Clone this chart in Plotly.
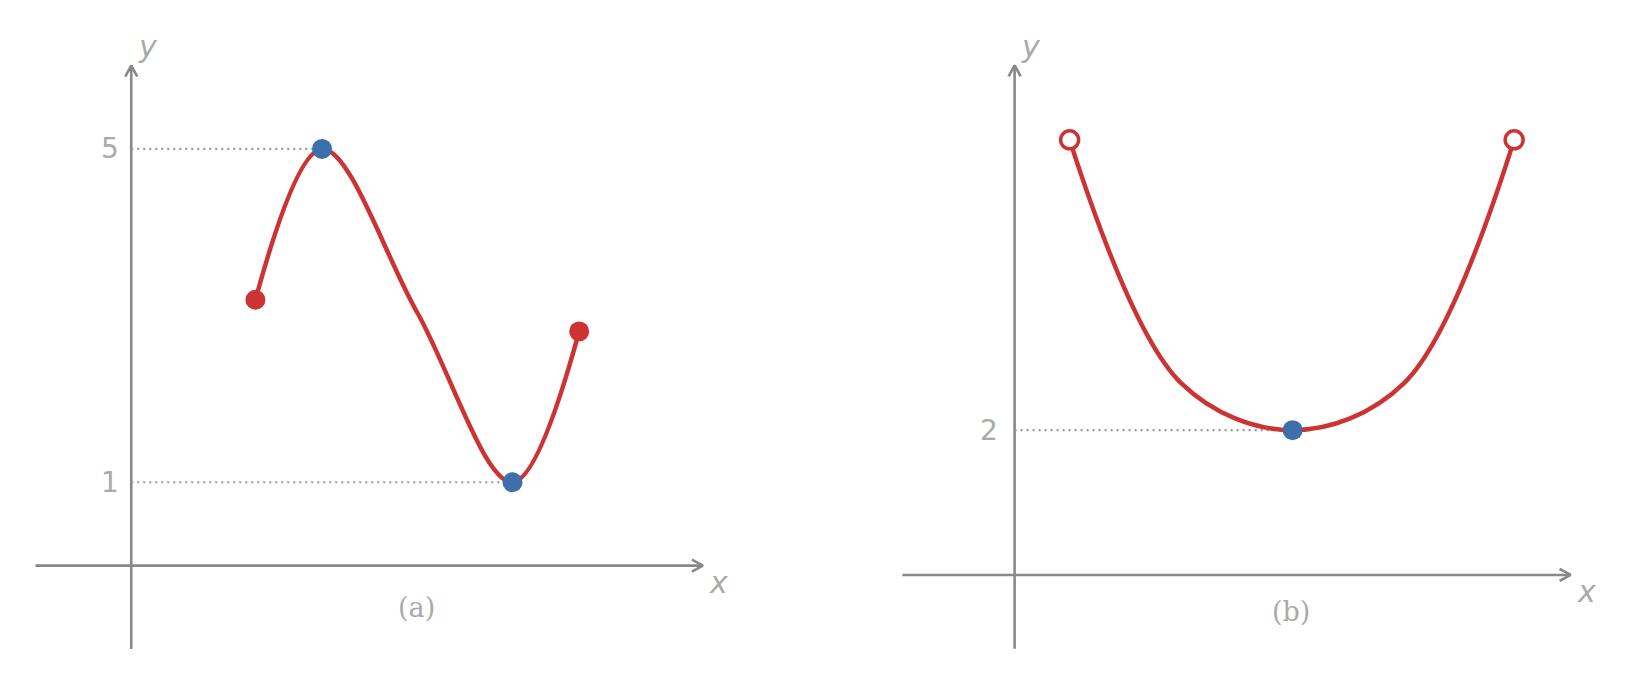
import plotly.graph_objects as go

# panel (a): curve
a_curve_x = [1.49, 2.29, 3.43, 4.575, 5.375]
a_curve_y = [3.19, 5.0, 3.04, 1.0, 2.81]
a_end_x = [1.49, 5.375]
a_end_y = [3.19, 2.81]
a_ext_x = [2.29, 4.575]
a_ext_y = [5.0, 1.0]
a_ticks = [5, 1]

# panel (b)
b_curve_x = [0.76, 2.3, 3.84, 5.38, 6.9]
b_curve_y = [6.01, 2.65, 2.0, 2.65, 6.01]
b_open_x = [0.76, 6.9]
b_open_y = [6.01, 6.01]
b_min_x = [3.84]
b_min_y = [2.0]
b_ticks = [2]

RED = "#cc3333"
BLUE = "#3d6fad"
AX = "#888888"
TXT = "#aaaaaa"

fig = go.Figure()


def axes(xa, ya, x0, x1, y0, y1, sx, sy):
    fig.add_trace(go.Scatter(x=[x0, x1], y=[0, 0], mode="lines", line=dict(color=AX, width=2.6),
                             xaxis=xa, yaxis=ya, hoverinfo="skip"))
    fig.add_trace(go.Scatter(x=[0, 0], y=[y0, y1], mode="lines", line=dict(color=AX, width=2.6),
                             xaxis=xa, yaxis=ya, hoverinfo="skip"))
    # chevron arrow heads
    fig.add_trace(go.Scatter(x=[x1 - 11 / sx, x1, x1 - 11 / sx], y=[6 / sy, 0, -6 / sy], mode="lines",
                             line=dict(color=AX, width=2.6), xaxis=xa, yaxis=ya, hoverinfo="skip"))
    fig.add_trace(go.Scatter(x=[-6 / sx, 0, 6 / sx], y=[y1 - 11 / sy, y1, y1 - 11 / sy], mode="lines",
                             line=dict(color=AX, width=2.6), xaxis=xa, yaxis=ya, hoverinfo="skip"))


def dotted(xa, ya, xs, ys):
    for x, y in zip(xs, ys):
        fig.add_trace(go.Scatter(x=[0, x], y=[y, y], mode="lines",
                                 line=dict(color="#999999", width=2.2, dash="2px,4px"),
                                 xaxis=xa, yaxis=ya, hoverinfo="skip"))


# panel a
axes("x", "y", -1.15, 6.86, -1.0, 6.0, 83.3, 83.3)
dotted("x", "y", a_ext_x, a_ext_y)
fig.add_trace(go.Scatter(x=a_curve_x, y=a_curve_y, mode="lines", line=dict(color=RED, width=4.5, shape="spline"),
                         xaxis="x", yaxis="y"))
fig.add_trace(go.Scatter(x=a_end_x, y=a_end_y, mode="markers", marker=dict(color=RED, size=20),
                         xaxis="x", yaxis="y"))
fig.add_trace(go.Scatter(x=a_ext_x, y=a_ext_y, mode="markers", marker=dict(color=BLUE, size=20),
                         xaxis="x", yaxis="y"))

# panel b
axes("x2", "y2", -1.55, 7.68, -1.02, 7.04, 72.4, 72.4)
dotted("x2", "y2", b_min_x, b_min_y)
fig.add_trace(go.Scatter(x=b_curve_x, y=b_curve_y, mode="lines", line=dict(color=RED, width=4.5, shape="spline"),
                         xaxis="x2", yaxis="y2"))
fig.add_trace(go.Scatter(x=b_open_x, y=b_open_y, mode="markers",
                         marker=dict(color="white", size=18, line=dict(color=RED, width=3.5)),
                         xaxis="x2", yaxis="y2"))
fig.add_trace(go.Scatter(x=b_min_x, y=b_min_y, mode="markers", marker=dict(color=BLUE, size=20),
                         xaxis="x2", yaxis="y2"))

ann = []
for t in a_ticks:
    ann.append(dict(x=-0.12, y=t, xref="x", yref="y", text=str(t), xanchor="right", showarrow=False,
                    font=dict(size=28, color=TXT, family="DejaVu Sans")))
for t in b_ticks:
    ann.append(dict(x=-0.2, y=t, xref="x2", yref="y2", text=str(t), xanchor="right", showarrow=False,
                    font=dict(size=28, color=TXT, family="DejaVu Sans")))
for xr, yr, xx, xy, yx, yy, lab, lx, ly in [
    ("x", "y", 7.05, -0.2, 0.2, 6.23, "(a)", 3.42, -0.5),
    ("x2", "y2", 7.9, -0.23, 0.22, 7.3, "(b)", 3.82, -0.5),
]:
    ann.append(dict(x=xx, y=xy, xref=xr, yref=yr, text="<i>x</i>", showarrow=False,
                    font=dict(size=30, color=TXT, family="DejaVu Sans")))
    ann.append(dict(x=yx, y=yy, xref=xr, yref=yr, text="<i>y</i>", showarrow=False,
                    font=dict(size=30, color=TXT, family="DejaVu Sans")))
    ann.append(dict(x=lx, y=ly, xref=xr, yref=yr, text=lab, showarrow=False,
                    font=dict(size=27, color=TXT, family="DejaVu Serif")))

noax = dict(visible=False, showgrid=False, zeroline=False)
fig.update_layout(
    width=1634, height=685, margin=dict(l=0, r=0, t=0, b=0),
    paper_bgcolor="white", plot_bgcolor="white", showlegend=False,
    annotations=ann,
    xaxis=dict(domain=[0, 0.5], range=[-1.479, 8.325], **noax),
    yaxis=dict(domain=[0, 1], range=[-1.529, 6.691], **noax),
    xaxis2=dict(domain=[0.5, 1], range=[-2.619, 8.666], **noax),
    yaxis2=dict(domain=[0, 1], range=[-1.630, 7.831], anchor="x2", **noax),
)

fig.write_html("out.html")
